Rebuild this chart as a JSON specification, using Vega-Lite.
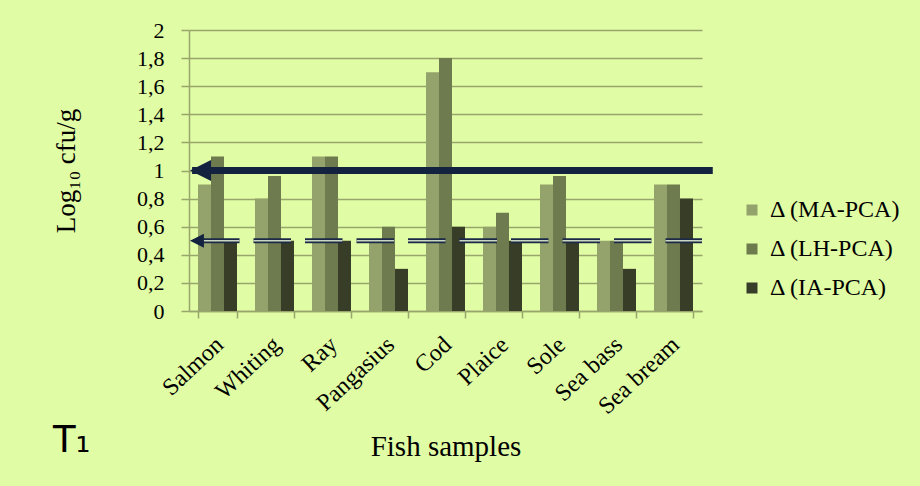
{
  "$schema": "https://vega.github.io/schema/vega-lite/v6.json",
  "width": 513,
  "height": 281,
  "autosize": {"type": "none"},
  "padding": {"left": 189, "top": 30, "right": 218, "bottom": 175},
  "background": "#e0fca4",
  "config": {
    "view": {"stroke": null},
    "font": "Liberation Serif"
  },
  "title": {
    "text": "T₁",
    "orient": "bottom",
    "anchor": "start",
    "frame": "group",
    "dx": -136,
    "offset": -38,
    "font": "DejaVu Sans",
    "fontSize": 37,
    "fontWeight": "normal",
    "color": "#000000"
  },
  "datasets": {
    "bars": [
      {"fish": "Salmon", "series": "Δ (MA-PCA)", "value": 0.9},
      {"fish": "Salmon", "series": "Δ (LH-PCA)", "value": 1.1},
      {"fish": "Salmon", "series": "Δ (IA-PCA)", "value": 0.5},
      {"fish": "Whiting", "series": "Δ (MA-PCA)", "value": 0.8},
      {"fish": "Whiting", "series": "Δ (LH-PCA)", "value": 0.96},
      {"fish": "Whiting", "series": "Δ (IA-PCA)", "value": 0.5},
      {"fish": "Ray", "series": "Δ (MA-PCA)", "value": 1.1},
      {"fish": "Ray", "series": "Δ (LH-PCA)", "value": 1.1},
      {"fish": "Ray", "series": "Δ (IA-PCA)", "value": 0.5},
      {"fish": "Pangasius", "series": "Δ (MA-PCA)", "value": 0.5},
      {"fish": "Pangasius", "series": "Δ (LH-PCA)", "value": 0.6},
      {"fish": "Pangasius", "series": "Δ (IA-PCA)", "value": 0.3},
      {"fish": "Cod", "series": "Δ (MA-PCA)", "value": 1.7},
      {"fish": "Cod", "series": "Δ (LH-PCA)", "value": 1.8},
      {"fish": "Cod", "series": "Δ (IA-PCA)", "value": 0.6},
      {"fish": "Plaice", "series": "Δ (MA-PCA)", "value": 0.6},
      {"fish": "Plaice", "series": "Δ (LH-PCA)", "value": 0.7},
      {"fish": "Plaice", "series": "Δ (IA-PCA)", "value": 0.5},
      {"fish": "Sole", "series": "Δ (MA-PCA)", "value": 0.9},
      {"fish": "Sole", "series": "Δ (LH-PCA)", "value": 0.96},
      {"fish": "Sole", "series": "Δ (IA-PCA)", "value": 0.5},
      {"fish": "Sea bass", "series": "Δ (MA-PCA)", "value": 0.5},
      {"fish": "Sea bass", "series": "Δ (LH-PCA)", "value": 0.5},
      {"fish": "Sea bass", "series": "Δ (IA-PCA)", "value": 0.3},
      {"fish": "Sea bream", "series": "Δ (MA-PCA)", "value": 0.9},
      {"fish": "Sea bream", "series": "Δ (LH-PCA)", "value": 0.9},
      {"fish": "Sea bream", "series": "Δ (IA-PCA)", "value": 0.8}
    ],
    "thick": [{"value": 1, "ax": 0.006, "ax2": 1.021}],
    "thickHead": [{"value": 1, "ax": 0.0225}],
    "double": [{"value": 0.5, "ax": 0.0, "ax2": 1.0}],
    "doubleHead": [{"value": 0.5, "ax": 0.0155}]
  },
  "encoding": {
    "y": {
      "field": "value",
      "type": "quantitative",
      "scale": {"domain": [0, 2], "nice": false},
      "axis": {
        "title": "Log₁₀ cfu/g",
        "titleFont": "Liberation Serif",
        "titleFontSize": 27,
        "titleFontWeight": "normal",
        "titleColor": "#000000",
        "titlePadding": 56,
        "values": [0, 0.2, 0.4, 0.6, 0.8, 1, 1.2, 1.4, 1.6, 1.8, 2],
        "labelExpr": "replace(format(datum.value, '.1~f'), '.', ',')",
        "labelOverlap": false,
        "labelFont": "Liberation Serif",
        "labelFontSize": 22,
        "labelColor": "#000000",
        "labelPadding": 17,
        "tickSize": 8,
        "tickColor": "#98a66d",
        "tickWidth": 1.5,
        "domainColor": "#98a66d",
        "domainWidth": 1.5,
        "gridColor": "#98a66d",
        "gridWidth": 1.5,
        "gridOpacity": 1
      }
    }
  },
  "layer": [
    {
      "data": {"name": "bars"},
      "mark": {"type": "bar"},
      "encoding": {
        "x": {
          "field": "fish",
          "type": "nominal",
          "sort": null,
          "scale": {"paddingInner": 0.316, "paddingOuter": 0.158},
          "axis": {
            "title": "Fish samples",
            "titleFont": "Liberation Serif",
            "titleFontSize": 29,
            "titleFontWeight": "normal",
            "titleColor": "#000000",
            "titlePadding": 14,
            "labelFont": "Liberation Serif",
            "labelFontSize": 24,
            "labelColor": "#000000",
            "labelAngle": -43,
            "labelAlign": "right",
            "labelBaseline": "middle",
            "labelPadding": 23,
            "labelOffset": 2,
            "labelOverlap": false,
            "tickBand": "extent",
            "tickSize": 7,
            "tickColor": "#98a66d",
            "tickWidth": 1.5,
            "domainColor": "#98a66d",
            "domainWidth": 1.5,
            "grid": false
          }
        },
        "xOffset": {
          "field": "series",
          "type": "nominal",
          "sort": ["Δ (MA-PCA)", "Δ (LH-PCA)", "Δ (IA-PCA)"],
          "scale": {"paddingInner": 0, "paddingOuter": 0}
        },
        "color": {
          "field": "series",
          "type": "nominal",
          "sort": ["Δ (MA-PCA)", "Δ (LH-PCA)", "Δ (IA-PCA)"],
          "scale": {
            "domain": ["Δ (MA-PCA)", "Δ (LH-PCA)", "Δ (IA-PCA)"],
            "range": ["#93a36b", "#6e7b4f", "#383d28"]
          },
          "legend": {
            "title": null,
            "orient": "none",
            "legendX": 551,
            "legendY": 168,
            "symbolType": "square",
            "symbolSize": 121,
            "symbolStrokeWidth": 0,
            "labelFont": "Liberation Serif",
            "labelFontSize": 24,
            "labelColor": "#000000",
            "labelOffset": 6,
            "rowPadding": 15,
            "labelLimit": 300
          }
        }
      }
    },
    {
      "data": {"name": "double"},
      "mark": {"type": "rule", "color": "#1c2a47", "strokeWidth": 5, "strokeDash": [37.5, 14], "strokeDashOffset": 38.5, "clip": false},
      "encoding": {
        "x": {"field": "ax", "type": "quantitative", "scale": {"domain": [0, 1], "nice": false, "zero": false}, "axis": null},
        "x2": {"field": "ax2"}
      }
    },
    {
      "data": {"name": "double"},
      "mark": {"type": "rule", "color": "#c9d6c0", "strokeWidth": 1.6, "strokeDash": [37.5, 14], "strokeDashOffset": 38.5, "clip": false},
      "encoding": {
        "x": {"field": "ax", "type": "quantitative", "scale": {"domain": [0, 1], "nice": false, "zero": false}, "axis": null},
        "x2": {"field": "ax2"}
      }
    },
    {
      "data": {"name": "doubleHead"},
      "mark": {"type": "point", "shape": "M-1,0L1,-1L1,1Z", "size": 196, "filled": true, "color": "#13233f", "opacity": 1, "clip": false},
      "encoding": {
        "x": {"field": "ax", "type": "quantitative", "scale": {"domain": [0, 1], "nice": false, "zero": false}, "axis": null}
      }
    },
    {
      "data": {"name": "thick"},
      "mark": {"type": "rule", "color": "#13233f", "strokeWidth": 7, "clip": false},
      "encoding": {
        "x": {"field": "ax", "type": "quantitative", "scale": {"domain": [0, 1], "nice": false, "zero": false}, "axis": null},
        "x2": {"field": "ax2"}
      }
    },
    {
      "data": {"name": "thickHead"},
      "mark": {"type": "point", "shape": "M-1,0L1,-1L1,1Z", "size": 441, "filled": true, "color": "#13233f", "opacity": 1, "clip": false},
      "encoding": {
        "x": {"field": "ax", "type": "quantitative", "scale": {"domain": [0, 1], "nice": false, "zero": false}, "axis": null}
      }
    }
  ],
  "resolve": {"scale": {"x": "independent"}}
}
